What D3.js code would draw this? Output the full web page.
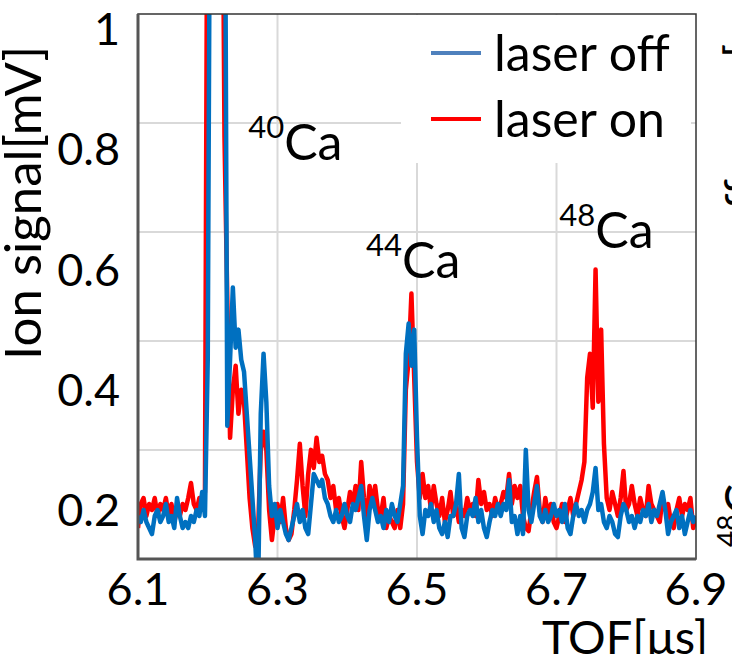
<!doctype html>
<html>
<head>
<meta charset="utf-8">
<script src="https://cdn.jsdelivr.net/npm/d3@7"></script>
<style>
  body { margin: 0; background: #fff; }
  svg text { font-family: Lato, 'Open Sans', sans-serif; fill: #000; }
</style>
</head>
<body>
<svg id="chart" width="732" height="654"></svg>
<script>

// axis ticks
const xTicks = [6.1, 6.3, 6.5, 6.7, 6.9]
const yTicks = [0.2, 0.4, 0.6, 0.8, 1]
const gridRows = [1, 2, 3, 4]

// TOF sample grid (us), 0.004 us apart
const tof = d3.range(201).map(i => +(6.1 + i * 0.004).toFixed(3))

// ion signal [mV]
const laserOff = [
  0.19,0.18,0.20,0.18,0.17,0.16,0.19,0.20,0.18,0.19,
  0.21,0.18,0.19,0.17,0.22,0.19,0.17,0.18,0.17,0.19,
  0.18,0.20,0.19,0.23,0.19,0.45,1.5,1.5,1.5,1.5,
  1.5,1.5,0.34,0.45,0.57,0.47,0.50,0.45,0.43,0.36,
  0.29,0.22,0.15,0.05,0.36,0.46,0.38,0.24,0.19,0.21,
  0.17,0.20,0.18,0.16,0.15,0.17,0.19,0.21,0.18,0.20,
  0.17,0.16,0.21,0.26,0.25,0.24,0.25,0.22,0.21,0.19,
  0.18,0.20,0.18,0.19,0.21,0.19,0.18,0.21,0.20,0.22,
  0.24,0.19,0.15,0.20,0.22,0.20,0.18,0.19,0.17,0.20,
  0.18,0.21,0.19,0.18,0.21,0.24,0.46,0.51,0.44,0.50,
  0.32,0.19,0.16,0.20,0.19,0.21,0.18,0.20,0.17,0.16,
  0.18,0.155,0.19,0.19,0.21,0.26,0.17,0.155,0.19,0.20,
  0.19,0.22,0.18,0.20,0.17,0.155,0.18,0.20,0.19,0.21,
  0.19,0.21,0.20,0.25,0.18,0.19,0.16,0.19,0.16,0.30,
  0.20,0.18,0.21,0.24,0.19,0.18,0.20,0.18,0.19,0.21,
  0.19,0.20,0.18,0.21,0.17,0.16,0.19,0.21,0.19,0.20,
  0.18,0.20,0.21,0.23,0.27,0.20,0.21,0.18,0.17,0.19,
  0.18,0.16,0.155,0.19,0.21,0.20,0.18,0.19,0.17,0.19,
  0.18,0.20,0.19,0.21,0.18,0.20,0.19,0.21,0.23,0.20,
  0.16,0.18,0.19,0.20,0.17,0.19,0.16,0.18,0.20,0.18,
  0.19
]
const laserOn = [
  0.17,0.21,0.22,0.19,0.21,0.20,0.22,0.19,0.21,0.20,
  0.22,0.19,0.21,0.18,0.20,0.19,0.21,0.20,0.22,0.245,
  0.21,0.20,0.22,0.21,0.23,1.5,1.5,1.5,1.5,1.5,
  1.5,0.82,0.55,0.32,0.40,0.44,0.36,0.40,0.38,0.30,
  0.22,0.17,0.14,0.16,0.30,0.33,0.30,0.20,0.15,0.19,
  0.21,0.18,0.22,0.17,0.15,0.16,0.20,0.25,0.31,0.24,
  0.19,0.26,0.30,0.27,0.32,0.28,0.29,0.26,0.25,0.22,
  0.24,0.20,0.22,0.19,0.17,0.20,0.23,0.21,0.24,0.20,
  0.28,0.22,0.18,0.24,0.21,0.24,0.20,0.19,0.22,0.17,
  0.19,0.18,0.17,0.20,0.17,0.21,0.40,0.45,0.56,0.42,
  0.28,0.22,0.26,0.22,0.24,0.20,0.24,0.21,0.19,0.22,
  0.18,0.20,0.23,0.19,0.21,0.18,0.20,0.19,0.22,0.20,
  0.21,0.19,0.25,0.21,0.23,0.20,0.21,0.19,0.22,0.20,
  0.21,0.23,0.22,0.26,0.21,0.24,0.22,0.24,0.19,0.17,
  0.165,0.20,0.23,0.255,0.20,0.18,0.22,0.19,0.21,0.18,
  0.17,0.19,0.21,0.18,0.20,0.22,0.19,0.21,0.23,0.25,
  0.28,0.42,0.46,0.37,0.60,0.38,0.50,0.31,0.22,0.20,
  0.23,0.21,0.19,0.22,0.265,0.20,0.21,0.24,0.21,0.19,
  0.22,0.20,0.19,0.24,0.21,0.20,0.19,0.18,0.22,0.20,
  0.21,0.18,0.17,0.20,0.22,0.19,0.21,0.20,0.22,0.17,
  0.19
]

const seriesNames = ["laser off", "laser on"]
const seriesColors = ["#0070c0", "#ff0000"]
const legendColors = ["#4f81bd", "#ff0000"]

// isotope labels: mass number, TOF and signal where the label sits
const isotopes = ["40", "44", "48"]
const isoTof = [6.258, 6.427, 6.704]
const isoSignal = [0.782, 0.586, 0.636]

const svg = d3.select("#chart")
const plot = { left: 138, right: 696, top: 14, bottom: 559 }

const x = d3.scaleLinear().domain([6.1, 6.9]).range([plot.left, plot.right])
const y = d3.scaleLinear().domain([0.2, 1]).range([510, 29])
const gridY = d3.scaleLinear().domain([0, 5]).range([plot.bottom, plot.top])

svg.append("defs").append("clipPath").attr("id", "clip")
  .append("rect")
    .attr("x", plot.left).attr("y", plot.top)
    .attr("width", plot.right - plot.left).attr("height", plot.bottom - plot.top)

// grid
svg.append("g").selectAll("line")
  .data(gridRows)
  .enter().append("line")
    .attr("x1", plot.left).attr("x2", plot.right)
    .attr("y1", d => gridY(d)).attr("y2", d => gridY(d))
    .attr("stroke", "#d9d9d9").attr("stroke-width", 2)

svg.append("g").selectAll("line")
  .data(xTicks.slice(1, -1))
  .enter().append("line")
    .attr("x1", d => x(d)).attr("x2", d => x(d))
    .attr("y1", plot.top).attr("y2", plot.bottom)
    .attr("stroke", "#d9d9d9").attr("stroke-width", 2)

// legend box hides the grid behind it
svg.append("rect")
  .attr("x", 401).attr("y", 15).attr("width", 290).attr("height", 148)
  .attr("fill", "white")

// traces
const line = d3.line()
  .x((d, i) => x(tof[i]))
  .y(d => y(d))

const traces = svg.append("g").attr("clip-path", "url(#clip)")
;[laserOn, laserOff].forEach((vals, k) => {
  traces.append("path")
    .datum(vals)
    .attr("fill", "none")
    .attr("stroke", k === 0 ? seriesColors[1] : seriesColors[0])
    .attr("stroke-width", 4.5)
    .attr("stroke-linejoin", "round")
    .attr("d", line)
})

// frame
svg.append("rect")
  .attr("x", plot.left).attr("y", plot.top)
  .attr("width", plot.right - plot.left).attr("height", plot.bottom - plot.top)
  .attr("fill", "none").attr("stroke", "#333").attr("stroke-width", 1.5)
svg.append("path")
  .attr("d", `M${plot.left},${plot.top}V${plot.bottom}H${plot.right}`)
  .attr("fill", "none").attr("stroke", "#555").attr("stroke-width", 3)

// tick labels
svg.append("g").selectAll("text")
  .data(xTicks)
  .enter().append("text")
    .attr("x", d => x(d)).attr("y", 605)
    .attr("text-anchor", "middle")
    .style("font-size", "45px")
    .text(d => d.toFixed(1))

svg.append("g").selectAll("text")
  .data(yTicks)
  .enter().append("text")
    .attr("x", 120).attr("y", d => y(d))
    .attr("dy", "0.36em")
    .attr("text-anchor", "end")
    .style("font-size", "45px")
    .text(d => d === 1 ? "1" : d.toFixed(1))

// axis titles
svg.append("text")
  .attr("transform", "translate(41,203) rotate(-90)")
  .attr("text-anchor", "middle")
  .style("font-size", "51px")
  .text("Ion signal[mV]")

svg.append("text")
  .attr("x", 625).attr("y", 654)
  .attr("text-anchor", "middle")
  .style("font-size", "47px")
  .text("TOF[\u03bcs]")

// isotope labels
const iso = svg.append("g").selectAll("text")
  .data(isotopes)
  .enter().append("text")
    .attr("x", (d, i) => x(isoTof[i]))
    .attr("y", (d, i) => y(isoSignal[i]))
iso.append("tspan").attr("dy", -22).style("font-size", "31px").text(d => d)
iso.append("tspan").attr("dy", 22).style("font-size", "50px").text("Ca")

// legend
const legend = svg.append("g").selectAll("g")
  .data(seriesNames)
  .enter().append("g")
    .attr("transform", (d, i) => "translate(431," + (53 + i * 66) + ")")
legend.append("line")
  .attr("x1", 0).attr("x2", 50)
  .attr("stroke", (d, i) => legendColors[i]).attr("stroke-width", 4)
legend.append("text")
  .attr("x", 63).attr("dy", "0.36em")
  .style("font-size", "50px")
  .text(d => d)

// edge of the neighbouring panel, mostly outside the window
const edge = svg.append("g").style("font-size", "46px")
edge.append("text")
  .attr("transform", "translate(758,58) rotate(-90)")
  .text("[a.u.]")
edge.append("text")
  .attr("transform", "translate(758,235) rotate(-90)")
  .text("off")
const edgeIso = edge.append("text")
  .attr("transform", "translate(758,547) rotate(-90)")
edgeIso.append("tspan").attr("dy", -20).style("font-size", "28px").text("48")
edgeIso.append("tspan").attr("dy", 20).text("Ca")

</script>
</body>
</html>
